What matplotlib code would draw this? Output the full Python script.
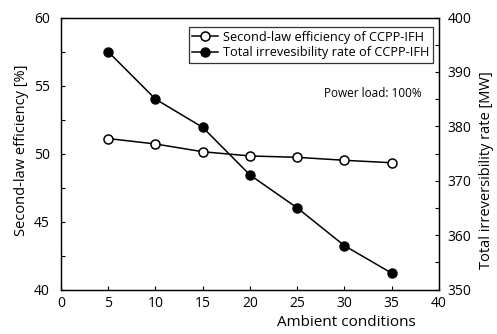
import matplotlib
matplotlib.use('Agg')
import matplotlib.pyplot as plt
from matplotlib.ticker import MultipleLocator

plt.rcParams['font.family'] = ['Open Sans', 'DejaVu Sans']

#data
ambient = [5, 10, 15, 20, 25, 30, 35]
efficiency = [51.1, 50.7, 50.13, 49.82, 49.72, 49.5, 49.32]
irreversibility = [393.7, 385.0, 379.8, 371.05, 365.0, 358.05, 353.0]

fig = plt.figure(figsize=(4.97, 3.34), dpi=100)
ax = fig.add_axes([0.1227, 0.1332, 0.7606, 0.8144])
ax2 = ax.twinx()

l1, = ax.plot(ambient, efficiency, color='k', lw=1.1, marker='o', ms=6.5,
              mfc='white', mec='k', mew=1.1, label='Second-law efficiency of CCPP-IFH')
l2, = ax2.plot(ambient, irreversibility, color='k', lw=1.1, marker='o', ms=6.5,
               mfc='k', mec='k', label='Total irrevesibility rate of CCPP-IFH')

ax.set_xlim(0, 40)
ax.set_ylim(40, 60)
ax2.set_ylim(350, 400)
ax.xaxis.set_major_locator(MultipleLocator(5))
ax.yaxis.set_major_locator(MultipleLocator(5))
ax.yaxis.set_minor_locator(MultipleLocator(2.5))
ax2.yaxis.set_major_locator(MultipleLocator(10))
ax2.yaxis.set_minor_locator(MultipleLocator(5))

ax.tick_params(axis='both', which='both', direction='in', labelsize=10, length=3, width=0.8)
ax.tick_params(axis='y', which='major', pad=8)
ax.tick_params(axis='x', which='major', pad=5)
ax2.tick_params(axis='y', which='both', direction='in', labelsize=10, length=3, width=0.8, pad=6)

for a in (ax, ax2):
    for s in a.spines.values():
        s.set_linewidth(0.9)

fig.text(0.043, 0.55, 'Second-law efficiency [%]', rotation=90, ha='center', va='center', fontsize=10.5)
fig.text(0.978, 0.49, 'Total irreversibility rate [MW]', rotation=90, ha='center', va='center', fontsize=10.5)
fig.text(0.696, 0.034, 'Ambient conditions', ha='center', va='center', fontsize=11)

leg = ax.legend(handles=[l1, l2], loc='upper right', bbox_to_anchor=(0.985, 0.965),
                fontsize=9.2, frameon=True, fancybox=False, edgecolor='k',
                handlelength=2.0, handletextpad=0.4, borderpad=0.3, labelspacing=0.2,
                borderaxespad=0)
leg.get_frame().set_linewidth(0.9)

ax.text(0.955, 0.72, 'Power load: 100%', transform=ax.transAxes, ha='right', va='center', fontsize=8.5)

fig.savefig('out.png', dpi=100)
